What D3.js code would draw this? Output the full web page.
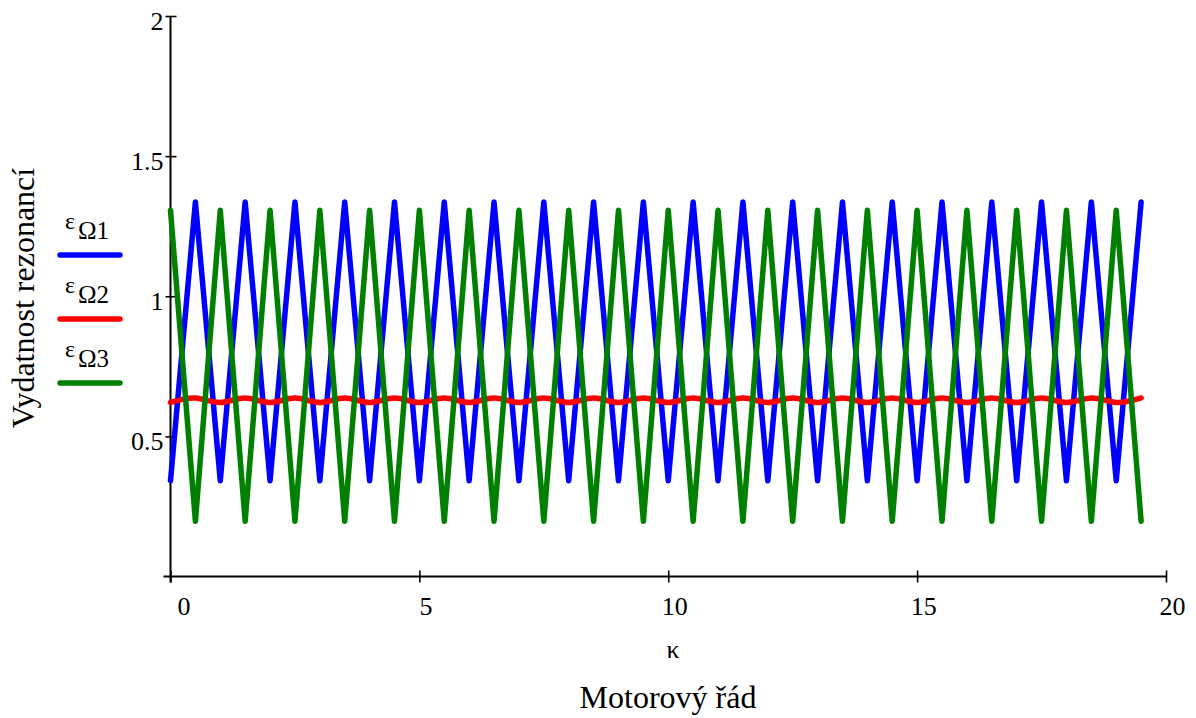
<!DOCTYPE html>
<html>
<head>
<meta charset="utf-8">
<script src="https://cdn.jsdelivr.net/npm/d3@7"></script>
</head>
<body style="margin:0;padding:0;background:#fff;">
<svg id="chart" width="1196" height="718" style="display:block;"></svg>
<script>
// ---- data ----
const kappa = [0, 0.5, 1, 1.5, 2, 2.5, 3, 3.5, 4, 4.5, 5, 5.5, 6, 6.5, 7, 7.5, 8, 8.5, 9, 9.5,
               10, 10.5, 11, 11.5, 12, 12.5, 13, 13.5, 14, 14.5, 15, 15.5, 16, 16.5, 17, 17.5, 18, 18.5, 19, 19.5];
const epsOmega1 = [0.342, 1.336, 0.342, 1.336, 0.342, 1.336, 0.342, 1.336, 0.342, 1.336,
                   0.342, 1.336, 0.342, 1.336, 0.342, 1.336, 0.342, 1.336, 0.342, 1.336,
                   0.342, 1.336, 0.342, 1.336, 0.342, 1.336, 0.342, 1.336, 0.342, 1.336,
                   0.342, 1.336, 0.342, 1.336, 0.342, 1.336, 0.342, 1.336, 0.342, 1.336];
const epsOmega2 = [0.621, 0.637, 0.621, 0.637, 0.621, 0.637, 0.621, 0.637, 0.621, 0.637,
                   0.621, 0.637, 0.621, 0.637, 0.621, 0.637, 0.621, 0.637, 0.621, 0.637,
                   0.621, 0.637, 0.621, 0.637, 0.621, 0.637, 0.621, 0.637, 0.621, 0.637,
                   0.621, 0.637, 0.621, 0.637, 0.621, 0.637, 0.621, 0.637, 0.621, 0.637];
const epsOmega3 = [1.307, 0.197, 1.307, 0.197, 1.307, 0.197, 1.307, 0.197, 1.307, 0.197,
                   1.307, 0.197, 1.307, 0.197, 1.307, 0.197, 1.307, 0.197, 1.307, 0.197,
                   1.307, 0.197, 1.307, 0.197, 1.307, 0.197, 1.307, 0.197, 1.307, 0.197,
                   1.307, 0.197, 1.307, 0.197, 1.307, 0.197, 1.307, 0.197, 1.307, 0.197];
const xTicks = [0, 5, 10, 15, 20];
const yTicks = [0.5, 1, 1.5, 2];
const seriesNames = ["Ω1", "Ω2", "Ω3"];
const seriesColors = ["#0000ff", "#ff0000", "#008000"];

const FONT = '"Liberation Serif"';
const BASE = 32;

// ---- scales ----
const svg = d3.select("#chart");
const x = d3.scaleLinear().domain([0, 20]).range([170.5, 1166]);
const y = d3.scaleLinear().domain([0, 2]).range([576.5, 16]);

function styleText(sel, size) {
  return sel.attr("fill", "#000")
    .style("font-family", FONT).style("font-size", BASE + "px");
}
function label(tx, ty, str, size, anchor) {
  return styleText(svg.append("text")
    .attr("transform", `translate(${tx},${ty}) scale(${size / BASE})`)
    .attr("text-anchor", anchor || "start"), size).text(str);
}

// ---- axes ----
const gx = svg.append("g").attr("transform", `translate(0,${y(0)})`)
  .call(d3.axisBottom(x).tickValues(xTicks).tickSize(6).tickSizeOuter(0).tickFormat(d3.format("d")))
  .attr("font-family", null).attr("font-size", null);
gx.select(".domain").remove();
gx.selectAll(".tick line").attr("y1", -6).attr("y2", 6).attr("stroke", "#000").attr("stroke-width", 1.6);
styleText(gx.selectAll(".tick text")
  .attr("x", null).attr("y", null).attr("dy", null)
  .attr("transform", d => `translate(${d === 0 ? 13 : 6},38) scale(${26 / BASE})`), 26);

const gy = svg.append("g").attr("transform", `translate(${x(0)},0)`)
  .call(d3.axisLeft(y).tickValues(yTicks).tickSize(5).tickSizeOuter(0).tickFormat(d => String(d)))
  .attr("font-family", null).attr("font-size", null);
gy.select(".domain").remove();
gy.selectAll(".tick line").attr("x1", -5).attr("x2", 6).attr("stroke", "#000").attr("stroke-width", 1.6);
styleText(gy.selectAll(".tick text")
  .attr("x", null).attr("y", null).attr("dy", null)
  .attr("transform", `translate(-7,13) scale(${26 / BASE})`), 26);

svg.append("line").attr("x1", x(0) - 7).attr("x2", x(20)).attr("y1", y(0)).attr("y2", y(0))
  .attr("stroke", "#000").attr("stroke-width", 2);
svg.append("line").attr("x1", x(0)).attr("x2", x(0)).attr("y1", y(2)).attr("y2", y(0) + 6)
  .attr("stroke", "#000").attr("stroke-width", 2);

// ---- series ----
const allSeries = [epsOmega1, epsOmega2, epsOmega3];
const lineLin = d3.line().x((d, i) => x(kappa[i])).y(d => y(d));
const lineSmooth = d3.line().x((d, i) => x(kappa[i])).y(d => y(d)).curve(d3.curveNatural);

[0, 1, 2].forEach(s => {
  svg.append("path")
    .datum(allSeries[s])
    .attr("d", s === 1 ? lineSmooth : lineLin)
    .attr("fill", "none")
    .attr("stroke", seriesColors[s])
    .attr("stroke-width", 5.5)
    .attr("stroke-linejoin", "round")
    .attr("stroke-linecap", "round");
});

// ---- legend ----
seriesNames.forEach((name, i) => {
  const base = 239 + i * 64;
  label(65, base - 10, "ε", 24);
  label(78, base, name, 25);
  svg.append("line").attr("x1", 60).attr("x2", 120).attr("y1", base + 16).attr("y2", base + 16)
    .attr("stroke", seriesColors[i]).attr("stroke-width", 5.5).attr("stroke-linecap", "round");
});

// ---- titles ----
svg.append("text").attr("transform", "translate(34,298) rotate(-90)")
  .attr("text-anchor", "middle").attr("fill", "#000")
  .style("font-family", FONT).style("font-size", "32px")
  .text("Vydatnost rezonancí");
label(673, 658, "κ", 26, "middle");
svg.append("text").attr("x", 668).attr("y", 708).attr("text-anchor", "middle").attr("fill", "#000")
  .style("font-family", FONT).style("font-size", "32px").text("Motorový řád");
</script>
</body>
</html>
